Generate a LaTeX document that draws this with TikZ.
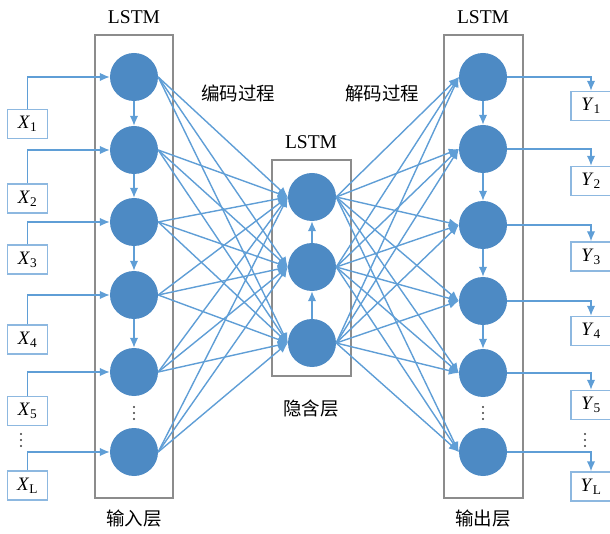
\documentclass[tikz,border=0pt]{standalone}
\usepackage{fontspec}
\setmainfont{Liberation Serif}
\newfontfamily\cjk{Noto Sans CJK SC}
\usetikzlibrary{arrows.meta}
\definecolor{nodeblue}{RGB}{77,138,196}
\definecolor{lineblue}{RGB}{95,158,214}
\definecolor{boxgray}{RGB}{140,140,140}
\definecolor{iocolor}{RGB}{141,184,224}
\definecolor{dotcol}{RGB}{60,60,60}
\newcommand{\io}[2]{\textit{#1}\textsubscript{#2}}
\begin{document}
\begin{tikzpicture}[x=1pt,y=-1pt,
  neuron/.style={circle,fill=nodeblue,minimum size=48pt,inner sep=0pt},
  layerbox/.style={draw=boxgray,line width=1.5pt,inner sep=0pt},
  iobox/.style={draw=iocolor,line width=1.4pt,minimum width=40pt,minimum height=29pt,inner sep=0pt,font=\fontsize{19}{22}\selectfont},
  conn/.style={draw=lineblue,line width=1.4pt,-{Latex[length=10pt,width=8.5pt]}},
  lbl/.style={font=\fontsize{19.5}{22}\selectfont},
  cjklbl/.style={font=\cjk\fontsize{18.5}{22}\selectfont},
  dotmark/.style={circle,fill=dotcol,inner sep=0pt,minimum size=2.2pt}]
\useasboundingbox (0,0) rectangle (610,534);
% layer boxes
\node[layerbox,minimum width=78pt,minimum height=463pt] (inbox) at (134,266.5) {};
\node[layerbox,minimum width=79pt,minimum height=216pt] (hidbox) at (311.5,268) {};
\node[layerbox,minimum width=79pt,minimum height=463pt] (outbox) at (483.5,266.5) {};
% labels
\node[lbl] (lstmL) at (134,17) {LSTM};
\node[lbl] (lstmM) at (311,142) {LSTM};
\node[lbl] (lstmR) at (483,17) {LSTM};
\node[cjklbl] (enc) at (238,93) {编码过程};
\node[cjklbl] (dec) at (382,93) {解码过程};
\node[cjklbl] (hidl) at (311,409) {隐含层};
\node[cjklbl] (inl) at (134,519) {输入层};
\node[cjklbl] (outl) at (483,519) {输出层};
% neurons
\foreach \n/\y in {1/77,2/150,3/222,4/295,5/372,6/452}
  \node[neuron] (l\n) at (134,\y) {};
\foreach \n/\y in {1/197,2/267,3/343}
  \node[neuron] (m\n) at (312,\y) {};
\foreach \n/\y in {1/77,2/149,3/225,4/301,5/373,6/452}
  \node[neuron] (r\n) at (483,\y) {};
% vertical ellipses
\foreach \cx/\cy in {134/413,483/413,21/440,585/440}
  \foreach \d in {-6,0,6}
    \node[dotmark] at (\cx,\cy+\d) {};
% io boxes
\node[iobox] (x1) at (27.5,124) {\io{X}{1}};
\node[iobox] (x2) at (27.5,198.5) {\io{X}{2}};
\node[iobox] (x3) at (27.5,259.5) {\io{X}{3}};
\node[iobox] (x4) at (27.5,339.5) {\io{X}{4}};
\node[iobox] (x5) at (27.5,411) {\io{X}{5}};
\node[iobox] (x6) at (27.5,485.5) {\io{X}{L}};
\node[iobox] (y1) at (591,106) {\io{Y}{1}};
\node[iobox] (y2) at (591,181) {\io{Y}{2}};
\node[iobox] (y3) at (591,256.5) {\io{Y}{3}};
\node[iobox] (y4) at (591,331) {\io{Y}{4}};
\node[iobox] (y5) at (591,405) {\io{Y}{5}};
\node[iobox] (y6) at (591,486.5) {\io{Y}{L}};
% input and output connectors
\foreach \n in {1,...,6} {
  \draw[conn] (x\n.north) |- (l\n.west);
  \draw[conn] (r\n.east) -| (y\n.north);
}
% vertical chains
\foreach \a/\b in {1/2,2/3,3/4,4/5} {
  \draw[conn] (l\a) -- (l\b);
  \draw[conn] (r\a) -- (r\b);
}
\draw[conn] (m3) -- (m2);
\draw[conn] (m2) -- (m1);
% fully connected
\foreach \i in {1,...,6}
  \foreach \j in {1,2,3} {
    \draw[conn] (l\i.east) -- (m\j.west);
    \draw[conn] (m\j.east) -- (r\i.west);
  }
\end{tikzpicture}
\end{document}
